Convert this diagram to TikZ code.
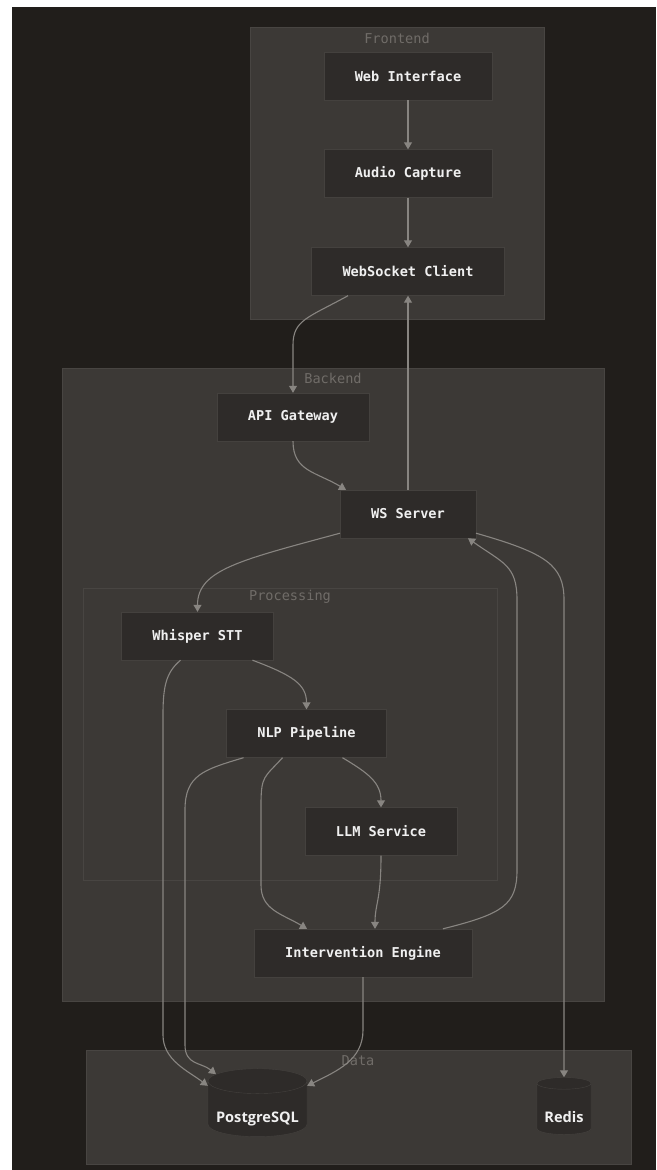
\documentclass[tikz,border=0pt]{standalone}
\usepackage{fontspec}
\setmonofont{DejaVu Sans Mono}
\newfontfamily\dbfont{Open Sans}
\usetikzlibrary{arrows.meta, positioning, shapes.geometric}
\definecolor{canvas}{RGB}{33,30,27}
\definecolor{groupbg}{RGB}{60,57,54}
\definecolor{groupln}{RGB}{72,69,66}
\definecolor{nodebg}{RGB}{46,43,41}
\definecolor{nodeln}{RGB}{68,65,62}
\definecolor{wire}{RGB}{136,133,129}
\definecolor{grouptxt}{RGB}{112,108,104}
\definecolor{nodetxt}{RGB}{240,240,240}
\newcommand{\dbtext}[1]{\raisebox{-13pt}[0pt][0pt]{#1}}

\begin{document}
\begin{tikzpicture}[x=1pt, y=-1pt,
        box/.style={draw=nodeln, fill=nodebg, text=nodetxt, minimum height=48pt,
                    inner xsep=31pt, font=\ttfamily\bfseries\fontsize{13.6}{16}\selectfont},
        db/.style={cylinder, shape border rotate=90, aspect=0.3, draw=nodeln, fill=nodebg,
                   text=nodetxt, inner sep=0pt, font=\dbfont\bfseries\fontsize{14.6}{16}\selectfont},
        group/.style={draw=groupln, fill=groupbg},
        glbl/.style={text=grouptxt, font=\ttfamily\fontsize{13.6}{16}\selectfont},
        edge/.style={draw=wire, line width=1.1pt, -{Triangle[length=7pt, width=8pt]}}
      ]
      \fill[white] (0,0) rectangle (656,1170);
      \fill[canvas] (12,7) rectangle (656,1170);
      % groups
      \draw[group] (250,27) rectangle (544,319);
      \draw[group] (62,368) rectangle (604,1001);
      \draw[group] (83,588) rectangle (497,880);
      \draw[group] (86,1050) rectangle (631,1164);
      \node[glbl] (fe) at (397,38) {Frontend};
      \node[glbl] (be) at (333,378) {Backend};
      \node[glbl] (proc) at (290,597) {Processing};
      \node[glbl] (data) at (358,1061) {Data};
      % nodes
      \node[box] (web) at (408,76) {Web Interface};
      \node[box] (audio) at (408,173.5) {Audio Capture};
      \node[box] (wsc) at (408,271.5) {WebSocket Client};
      \node[box] (api) at (293,417) {API Gateway};
      \node[box] (wss) at (408,514) {WS Server};
      \node[box] (whisper) at (197.5,636) {Whisper STT};
      \node[box] (nlp) at (306.5,733.5) {NLP Pipeline};
      \node[box] (llm) at (381,831.5) {LLM Service};
      \node[box] (ie) at (363,953) {Intervention Engine};
      \node[db, minimum width=99pt, minimum height=68pt] (pg) at (257.5,1109) {\dbtext{PostgreSQL}};
      \node[db, minimum width=54pt, minimum height=57pt] (redis) at (564,1109) {\dbtext{Redis}};
      % edges
      \draw[edge] (web) -- (audio);
      \draw[edge] (audio) -- (wsc);
      \draw[edge] ([xshift=-60pt]wsc.south) .. controls +(-40,22) and +(0,-25) .. (api.north |- 0,345) -- (api.north);
      \draw[edge] (api.south) .. controls +(0,30) and +(-30,-18) .. ([xshift=-62pt]wss.north);
      \draw[edge] (wss.north) -- (wsc.south);
      \draw[edge] ([yshift=5pt]wss.south west) .. controls +(-100,27) and +(0,-42) .. (whisper.north);
      \draw[edge] ([yshift=5pt]wss.south east) .. controls +(70,20) and +(0,-35) .. (redis.north |- 0,600) -- (redis.north);
      \draw[edge] ([xshift=55pt]whisper.south) .. controls +(40,15) and +(0,-25) .. (nlp.north);
      \draw[edge] ([xshift=-17pt]whisper.south) .. controls +(-14,12) and +(0,-30) .. (163,715) -- (163,1035) .. controls +(0,25) and +(-20,-15) .. (pg.155);
      \draw[edge] ([xshift=-63pt]nlp.south) .. controls +(-40,12) and +(0,-35) .. (185,810) -- (185,1045) .. controls +(0,20) and +(-15,-12) .. (pg.140);
      \draw[edge] ([xshift=-24pt]nlp.south) .. controls +(-18,20) and +(0,-30) .. (261,805) -- (261,885) .. controls +(0,25) and +(-25,-15) .. ([xshift=-56pt]ie.north);
      \draw[edge] ([xshift=36pt]nlp.south) .. controls +(25,15) and +(0,-25) .. (llm.north);
      \draw[edge] (llm.south) .. controls +(0,45) and +(0,-25) .. ([xshift=12pt]ie.north);
      \draw[edge] ([xshift=80pt]ie.north) .. controls +(60,-15) and +(0,35) .. (517,870) -- (517,600) .. controls +(0,-35) and +(35,25) .. ([xshift=60pt]wss.south);
      \draw[edge] (ie.south) -- (363,1030) .. controls +(0,30) and +(30,-15) .. (pg.25);
    \end{tikzpicture}
\end{document}
